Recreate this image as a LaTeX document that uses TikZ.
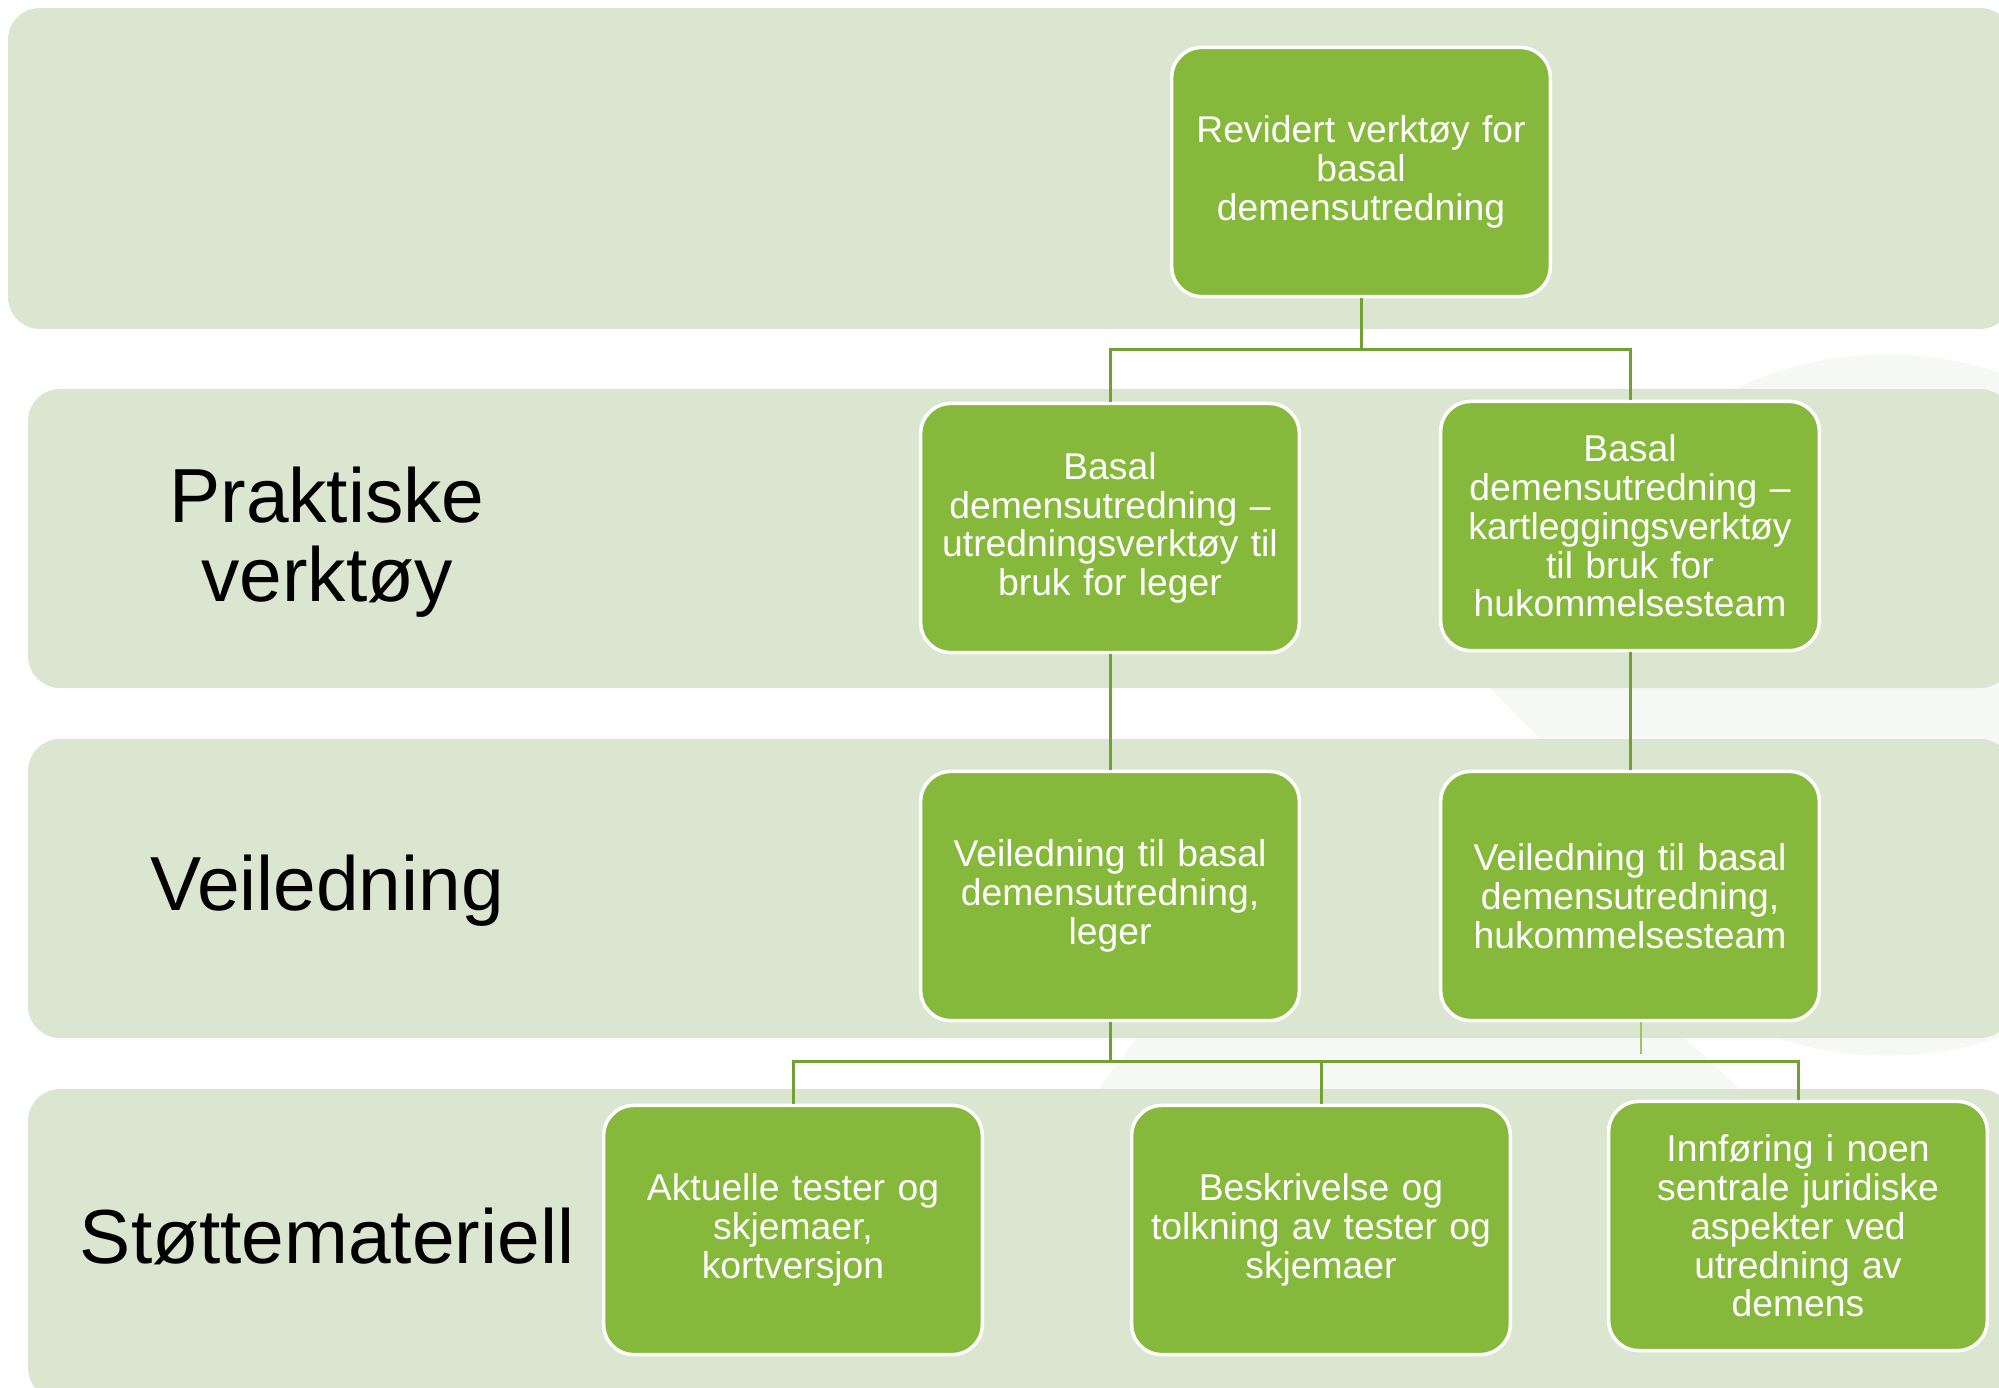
\documentclass[tikz,border=0pt]{standalone}
\usepackage{fontspec}
\setmainfont{Liberation Sans}
\definecolor{bandgreen}{HTML}{DAE6CF}
\definecolor{boxgreen}{HTML}{86B93B}
\definecolor{linegreen}{HTML}{72A033}
\definecolor{stubgreen}{HTML}{9CC663}
\definecolor{logogray}{HTML}{F6F8F6}

\begin{document}
\begin{tikzpicture}[x=0.01cm,y=-0.01cm,
  band/.style={fill=bandgreen,rounded corners=0.32cm},
  gbox/.style={draw=white,line width=1pt,fill=boxgreen,rounded corners=0.3cm,text=white,
    minimum width=3.75cm,minimum height=2.49cm,text width=3.55cm,align=center,
    font=\fontsize{10.6}{11}\selectfont},
  rowlabel/.style={align=center,font=\fontsize{21.8}{22.5}\selectfont},
  conn/.style={linegreen,line width=0.85pt}]
\useasboundingbox (0,0) rectangle (1999,1387);
\clip (0,0) rectangle (1999,1387);
\fill[logogray] (1887,705) circle[radius=3.505cm];
\fill[logogray] (1440,638) -- (1590,790) -- (2010,790) -- (2010,638) -- cycle;
\fill[logogray] (1175,988) -- (1631,988) -- (1793,1138) -- (1061,1138) -- cycle;
\foreach \ya/\yb/\xa in {8/329/8, 389/688/28, 739/1038/28, 1089/1400/28}
  \fill[band] (\xa,\ya) rectangle (2012,\yb);

\node[rowlabel] (praktiske) at (327,542) {Praktiske\\verktøy};
\node[rowlabel] (veiledning) at (327,891) {Veiledning};
\node[rowlabel] (stotte) at (327,1236) {Støttemateriell};

\node[gbox] (revidert) at (1361,172) {Revidert verktøy for\\basal\\demensutredning};
\node[gbox] (prakLeger) at (1110,528) {Basal\\demensutredning –\\utredningsverktøy til\\bruk for leger};
\node[gbox] (prakTeam) at (1630,526) {Basal\\demensutredning –\\kartleggingsverktøy\\til bruk for\\hukommelsesteam};
\node[gbox] (veilLeger) at (1110,896) {Veiledning til basal\\demensutredning,\\leger};
\node[gbox] (veilTeam) at (1630,896) {Veiledning til basal\\demensutredning,\\hukommelsesteam};
\node[gbox] (tester) at (793,1230) {Aktuelle tester og\\skjemaer,\\kortversjon};
\node[gbox] (tolkning) at (1321,1230) {Beskrivelse og\\tolkning av tester og\\skjemaer};
\node[gbox] (juridisk) at (1798,1226) {Innføring i noen\\sentrale juridiske\\aspekter ved\\utredning av\\demens};

\coordinate (splitTop) at (1361,349);
\coordinate (splitBot) at (1110,1061);
\coordinate (stubEnd) at (1641,1054);
\draw[conn] (revidert.south) -- (splitTop) -| (prakLeger.north);
\draw[conn] (splitTop) -| (prakTeam.north);
\draw[conn] (prakLeger.south) -- (veilLeger.north);
\draw[conn] (prakTeam.south) -- (veilTeam.north);
\draw[conn] (veilLeger.south) -- (splitBot) -| (tester.north);
\foreach \n in {tolkning,juridisk}
  \draw[conn] (splitBot) -| (\n.north);
\draw[stubgreen,line width=0.6pt] (veilTeam.south -| stubEnd) -- (stubEnd);
\end{tikzpicture}
\end{document}
